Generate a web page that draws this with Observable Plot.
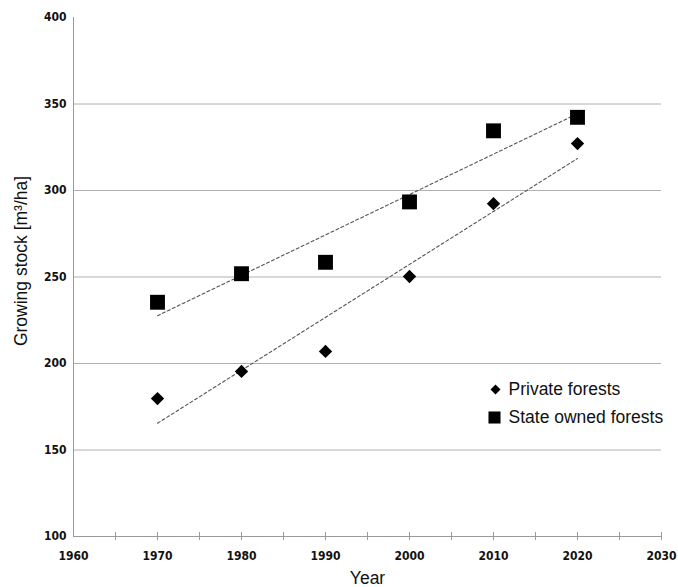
<!DOCTYPE html>
<html>
<head>
<meta charset="utf-8">
<script src="https://cdn.jsdelivr.net/npm/d3@7"></script>
<script src="https://cdn.jsdelivr.net/npm/@observablehq/plot@0.6"></script>
<style>
  html, body { margin: 0; padding: 0; background: white; }
</style>
</head>
<body>
<div id="chart"></div>
<script>
const years = [1970, 1980, 1990, 2000, 2010, 2020];
const privateForests = [179.7, 195.4, 207.0, 250.3, 292.4, 327.1];
const stateForests = [235.4, 251.9, 258.5, 293.4, 334.5, 342.3];
const seriesNames = ["Private forests", "State owned forests"];
const xTickLabels = [1960, 1970, 1980, 1990, 2000, 2010, 2020, 2030];
const xMinorTicks = [1965, 1970, 1975, 1980, 1985, 1990, 1995, 2000, 2005, 2010, 2015, 2020, 2025, 2030];
const yTickLabels = [100, 150, 200, 250, 300, 350, 400];
const yGrid = [150, 200, 250, 300, 350];

const privateData = years.map((yr, i) => ({year: yr, value: privateForests[i], series: seriesNames[0]}));
const stateData = years.map((yr, i) => ({year: yr, value: stateForests[i], series: seriesNames[1]}));
const allData = privateData.concat(stateData);

const labelFont = "Liberation Sans, Arial, sans-serif";
const tickFont = "DejaVu Sans Condensed, DejaVu Sans, sans-serif";

const chart = Plot.plot({
  width: 678,
  height: 587,
  marginLeft: 73,
  marginRight: 17,
  marginTop: 17,
  marginBottom: 51,
  style: {fontFamily: tickFont, fontSize: "12px", color: "#111", background: "white"},
  x: {domain: [1960, 2030]},
  y: {domain: [100, 400]},
  marks: [
    Plot.ruleY(yGrid, {stroke: "#b0b0b0", strokeWidth: 1}),
    Plot.ruleX([1960], {stroke: "#9a9a9a"}),
    Plot.ruleY([100], {stroke: "#9a9a9a"}),
    Plot.ruleX(xMinorTicks, {x: d => d, y1: 100, y2: 100, insetTop: -4, insetBottom: -4, stroke: "#9a9a9a"}),
    Plot.axisY({ticks: yTickLabels, tickSize: 0, tickPadding: 7, label: null, fontSize: 12, fontWeight: "bold"}),
    Plot.axisX({ticks: xTickLabels, tickSize: 0, tickPadding: 15, tickFormat: d => String(d), label: null, fontSize: 12, fontWeight: "bold"}),
    Plot.linearRegressionY(allData, {x: "year", y: "value", z: "series", stroke: "#555", strokeWidth: 1.1, strokeDasharray: "3,2.5", ci: 0}),
    Plot.dot(privateData, {x: "year", y: "value", symbol: "diamond2", r: 6.0, fill: "black", stroke: "none"}),
    Plot.dot(stateData, {x: "year", y: "value", symbol: "square", r: 8.4, fill: "black", stroke: "none"}),
    // axis titles
    Plot.text(["Year"], {frameAnchor: "bottom", dy: 42, lineAnchor: "middle", fontSize: 17.5, fontFamily: labelFont, fill: "#111"}),
    Plot.text(["Growing stock [m³/ha]"], {frameAnchor: "left", dx: -52, dy: -16, rotate: -90, textAnchor: "middle", lineAnchor: "middle", fontSize: 17.5, fontFamily: labelFont, fill: "#111"}),
    // legend
    Plot.dot([seriesNames[0]], {frameAnchor: "top-left", dx: 422, dy: 372, symbol: "diamond2", r: 4.5, fill: "black"}),
    Plot.dot([seriesNames[1]], {frameAnchor: "top-left", dx: 421, dy: 400, symbol: "square", r: 6.8, fill: "black"}),
    Plot.text([seriesNames[0]], {frameAnchor: "top-left", dx: 435, dy: 372, textAnchor: "start", lineAnchor: "middle", fontSize: 17.5, fontFamily: labelFont, fill: "#111"}),
    Plot.text([seriesNames[1]], {frameAnchor: "top-left", dx: 435, dy: 400, textAnchor: "start", lineAnchor: "middle", fontSize: 17.5, fontFamily: labelFont, fill: "#111"})
  ]
});
document.getElementById("chart").appendChild(chart);
</script>
</body>
</html>
